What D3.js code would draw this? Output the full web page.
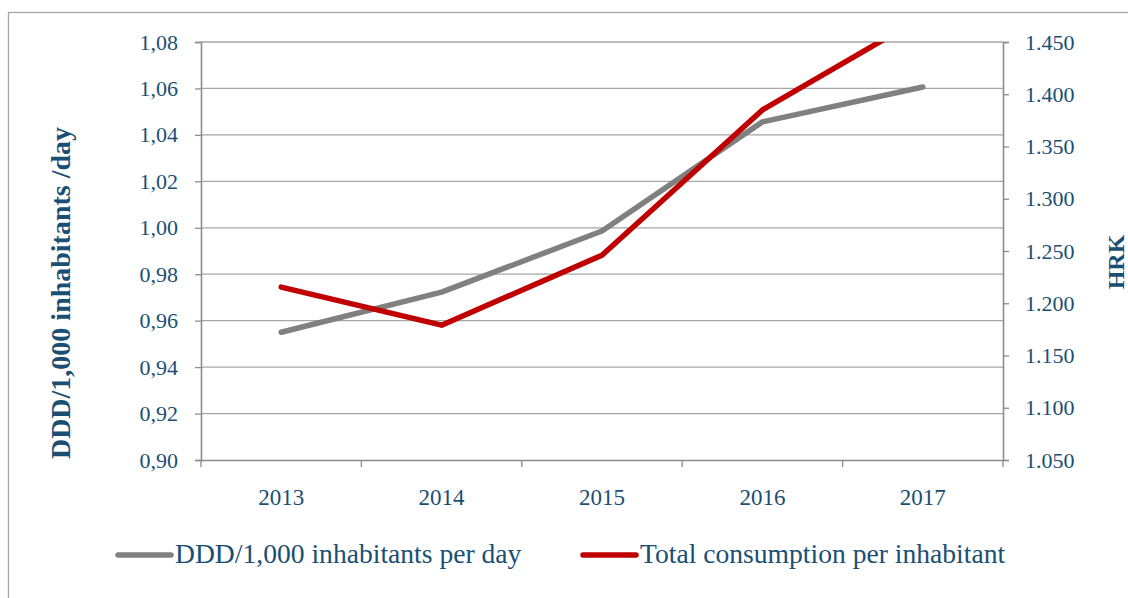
<!DOCTYPE html>
<html><head><meta charset="utf-8">
<script src="https://cdn.jsdelivr.net/npm/d3@7"></script>
<style>body{margin:0;background:#fff}svg{display:block}</style>
</head><body>
<svg id="c" width="1128" height="598"></svg>
<script>
const years = ["2013","2014","2015","2016","2017"];
const dddValues = [0.955, 0.9723, 0.9986, 1.0456, 1.0606];
const hrkValues = [1215.5, 1179, 1246, 1385, 1474];
const leftTicks = [0.90,0.92,0.94,0.96,0.98,1.00,1.02,1.04,1.06,1.08];
const rightTicks = [1050,1100,1150,1200,1250,1300,1350,1400,1450];
const seriesNames = ["DDD/1,000 inhabitants per day","Total consumption per inhabitant"];
const leftTitle = "DDD/1,000 inhabitants /day";
const rightTitle = "HRK";

const txt = "#1a4f73", axisC = "#8c8c8c", gridC = "#a6a6a6";
const font = "'Liberation Serif', 'DejaVu Serif', serif";
const svg = d3.select("#c");
const m = {l:201, r:1003, t:42, b:460};

svg.append("rect").attr("x",8.5).attr("y",12.5).attr("width",1140).attr("height",620)
  .attr("fill","none").attr("stroke","#a6a6a6").attr("stroke-width",1.3);

const x = d3.scaleBand().domain(years).range([m.l, m.r]);
const yL = d3.scaleLinear().domain([0.90,1.08]).range([m.b, m.t]);
const yR = d3.scaleLinear().domain([1050,1450]).range([m.b, m.t]);

svg.append("g").selectAll("line").data(leftTicks.slice(1)).join("line")
  .attr("x1",m.l).attr("x2",m.r).attr("y1",d=>yL(d)).attr("y2",d=>yL(d))
  .attr("stroke",gridC).attr("stroke-width",1.3);

const fmtL = d => d3.format(".2f")(d).replace(".",",");
const fmtR = d => d3.format(",.0f")(d).replace(",",".");

const gL = svg.append("g").attr("transform",`translate(${m.l},0)`)
  .call(d3.axisLeft(yL).tickValues(leftTicks).tickFormat(fmtL).tickSize(6).tickPadding(17));
const gR = svg.append("g").attr("transform",`translate(${m.r},0)`)
  .call(d3.axisRight(yR).tickValues(rightTicks).tickFormat(fmtR).tickSize(6).tickPadding(16));
const gX = svg.append("g").attr("transform",`translate(0,${m.b})`)
  .call(d3.axisBottom(x).tickSize(0).tickPadding(29));
gX.append("g").selectAll("line").data(d3.range(years.length+1)).join("line")
  .attr("x1",i=>m.l+i*x.step()).attr("x2",i=>m.l+i*x.step()).attr("y1",0).attr("y2",7)
  .attr("stroke",axisC).attr("stroke-width",1.3);

[gL,gR,gX].forEach(g=>{
  g.select(".domain").attr("stroke",axisC).attr("stroke-width",1.6);
  g.selectAll(".tick line").attr("stroke",axisC).attr("stroke-width",1.3);
  g.selectAll("text").attr("fill",txt).style("font-family",font).attr("font-size",22);
});
gX.selectAll("text").attr("font-size",23);

svg.append("defs").append("clipPath").attr("id","clip").append("rect")
  .attr("x",m.l).attr("y",m.t).attr("width",m.r-m.l).attr("height",m.b-m.t);
const lineL = d3.line().x((d,i)=>x(years[i])+x.bandwidth()/2).y(d=>yL(d));
const lineR = d3.line().x((d,i)=>x(years[i])+x.bandwidth()/2).y(d=>yR(d));
svg.append("path").datum(dddValues).attr("d",lineL).attr("fill","none")
  .attr("stroke","#808080").attr("stroke-width",5.5).attr("stroke-linecap","round").attr("stroke-linejoin","round");
svg.append("path").datum(hrkValues).attr("d",lineR).attr("fill","none").attr("clip-path","url(#clip)")
  .attr("stroke","#c00000").attr("stroke-width",5.5).attr("stroke-linecap","round").attr("stroke-linejoin","round");

svg.append("text").attr("transform",`translate(70,${(m.t+m.b)/2+42}) rotate(-90)`)
  .attr("text-anchor","middle").attr("fill",txt).style("font-family",font)
  .attr("font-weight","bold").attr("font-size",28).text(leftTitle);
svg.append("text").attr("transform",`translate(1124,262) rotate(-90)`)
  .attr("text-anchor","middle").attr("fill",txt).style("font-family",font)
  .attr("font-weight","bold").attr("font-size",24).text(rightTitle);

const leg = [{x:118, c:"#808080"},{x:583, c:"#c00000"}];
leg.forEach((l,i)=>{
  svg.append("line").attr("x1",l.x).attr("x2",l.x+53).attr("y1",555).attr("y2",555)
    .attr("stroke",l.c).attr("stroke-width",5.5).attr("stroke-linecap","round");
  svg.append("text").attr("x",l.x+57).attr("y",563).attr("fill",txt).style("font-family",font)
    .attr("font-size",27.6).text(seriesNames[i]);
});
</script>
</body></html>
